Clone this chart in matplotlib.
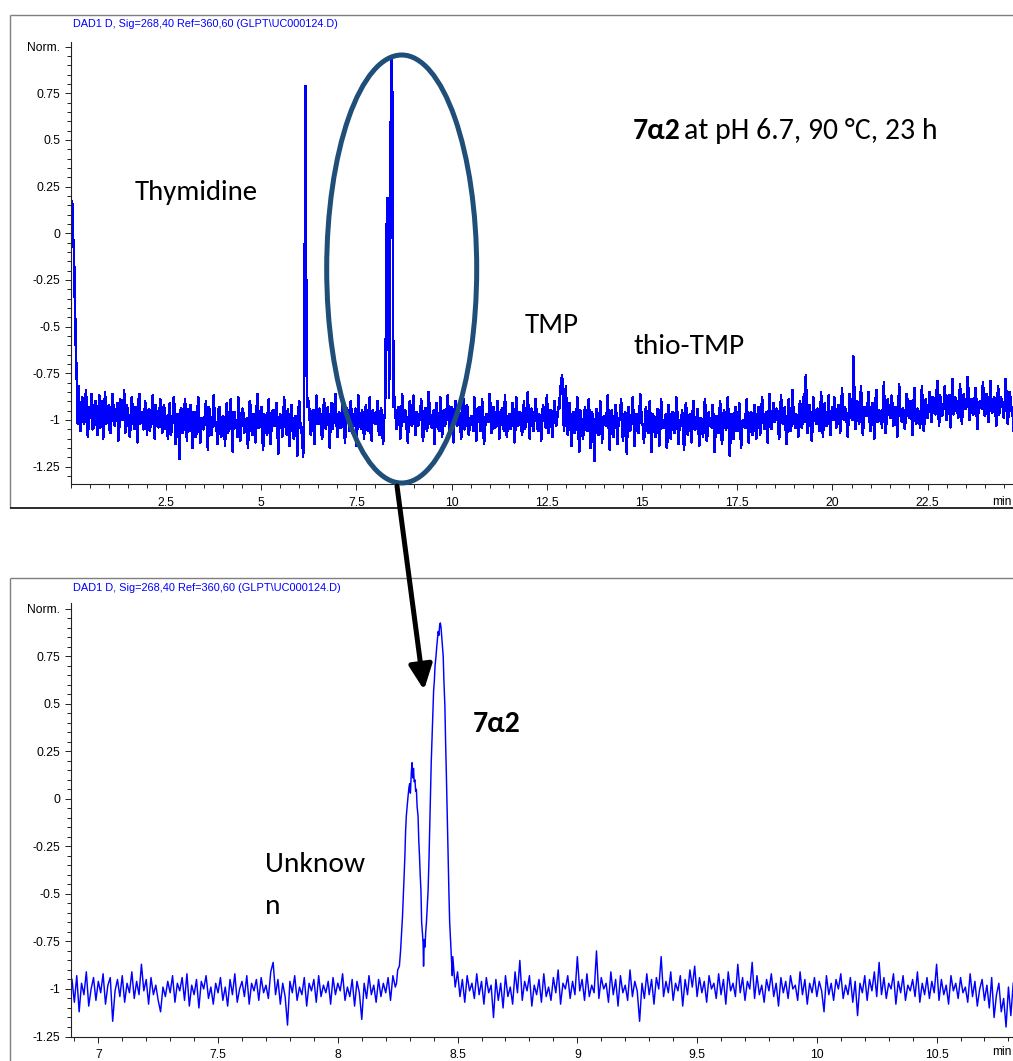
import numpy as np
import matplotlib
matplotlib.use("Agg")
import matplotlib.pyplot as plt
from matplotlib import font_manager as fm
from matplotlib.patches import Ellipse, FancyArrowPatch, ArrowStyle
from matplotlib.lines import Line2D
from matplotlib.ticker import FixedLocator, MultipleLocator

# ------------------------------------------------------------------ data
# top chromatogram (full run, minutes / Norm.)
init_t = [0.0, 0.02, 0.035, 0.05, 0.065, 0.08, 0.10, 0.12, 0.14, 0.16, 0.18]
init_v = [-0.14, 0.05, 0.17, 0.08, -0.05, -0.08, -0.30, -0.50, -0.68, -0.80, -1.02]

# baseline 0.20 - 6.05 min: samples on the 0.05-min grid ...
segA = [-.82, -1.06, -.88, -1.02, -.84, -1.09, -.93, -.86, -1.04, -.90, -1.08, -.87, -.99, -1.10, -.85, -1.01,
        -.92, -1.07, -.86, -1.03, -.95, -1.11, -.89, -1.00, -.84, -1.06, -.97, -1.09, -.88, -1.02, -.93, -1.12,
        -.86, -.99, -1.05, -.90, -1.08, -.94, -1.01, -.87, -1.10, -.96, -1.04, -.89, -1.07, -.92,
        -.98, -1.10, -.91, -1.05, -.88, -1.13, -.97, -1.21, -.94, -1.06, -.89, -1.11, -1.00, -.92, -1.15, -.96,
        -1.07, -.88, -1.12, -.99, -1.04, -.90, -1.16, -.95, -1.08, -.87, -1.03, -1.13, -.93, -1.09, -.98, -1.14,
        -.91, -1.05, -.89, -1.17, -.96, -1.02, -.88, -1.11, -.94, -1.07, -1.00, -1.15, -.90, -1.06, -.97, -1.12,
        -.86, -1.04, -.93, -1.16, -.99, -1.08, -.89, -1.13, -.95, -1.03, -.91, -1.18, -.97, -1.09, -.88, -1.06,
        -.94, -1.14, -.92, -1.10, -.98, -1.19, -.90, -1.07]
# ... and the samples half-way between them (+0.025 min)
segA_mid = [-.97, -.93, -1.00, -.91, -1.03, -.95, -.99, -1.05, -.92, -1.01,
            -.96, -1.04, -.90, -.98, -1.02, -.94, -1.06, -.93, -.97, -1.00,
            -.91, -1.03, -.95, -.99, -1.07, -.92, -.98, -1.01, -.94, -1.05,
            -.97, -.90, -1.02, -.96, -1.04, -.93, -.99, -1.06, -.95, -1.01,
            -.92, -1.03, -.97, -1.00, -.94, -1.05,
            -1.02, -.96, -1.08, -.99, -.93, -1.04, -1.01, -.95, -1.07, -.98,
            -1.03, -.94, -1.06, -1.00, -.97, -1.09, -.95, -1.02, -.99, -1.05,
            -.96, -1.04, -.93, -1.08, -1.00, -.97, -1.03, -.95, -1.06, -.99,
            -1.01, -.94, -1.07, -.98, -1.04, -.96, -1.02, -1.09, -.97, -1.00,
            -.95, -1.05, -.99, -1.03, -.94, -1.08, -1.00, -.96, -1.04, -.98,
            -1.06, -.97, -1.01, -.95, -1.07, -.99, -1.03, -.96, -1.05, -1.00,
            -.98, -1.04, -.96, -1.08, -1.01, -.97, -1.05, -.99, -1.03, -.95,
            -1.02, -1.06]

# thymidine peak
thy_t = [6.10, 6.12, 6.135, 6.15, 6.16, 6.17, 6.185, 6.20, 6.22]
thy_v = [-1.20, -1.02, -0.55, 0.30, 0.79, 0.35, -0.45, -0.85, -0.93]

# baseline 6.25 - 8.20 min
segB = [-.90, -1.08, -.95, -1.13, -.87, -1.02, -.97, -1.10, -.89, -1.05, -.93, -1.15, -.91, -1.00, -.86, -1.09,
        -.96, -1.04, -.88, -1.12, -.94, -1.01, -.90, -1.07, -.98, -1.14, -.87, -1.03, -.95, -1.10, -.92, -1.06,
        -.88, -1.11, -.97, -1.02, -.90, -1.08, -.94, -1.13]
segB_mid = [-1.00, -.96, -1.04, -.98, -1.02, -.94, -1.06, -.99, -1.01, -.95,
            -1.03, -.97, -1.05, -.93, -1.00, -.98, -1.04, -.96, -1.02, -.99,
            -.95, -1.06, -.98, -1.01, -.94, -1.03, -.97, -1.05, -1.00, -.96,
            -1.02, -.98, -1.07, -.95, -1.01, -.99, -1.04, -.96, -1.03, -1.00]

# unknown + 7a2 peak cluster (shared by both panels)
pk_t = [8.245, 8.250, 8.257, 8.262, 8.266, 8.270, 8.273, 8.277, 8.280, 8.283, 8.286, 8.290, 8.293, 8.297,
        8.300, 8.303, 8.307, 8.310, 8.313, 8.316, 8.319, 8.322, 8.325, 8.328, 8.331, 8.335, 8.338, 8.341,
        8.344, 8.347, 8.350, 8.353, 8.356, 8.358, 8.361, 8.364, 8.367, 8.370, 8.374, 8.377, 8.381, 8.384,
        8.387, 8.390, 8.393, 8.396, 8.400, 8.403, 8.406, 8.410, 8.413, 8.416, 8.419, 8.422, 8.425, 8.428,
        8.431, 8.434, 8.437, 8.440, 8.443, 8.447, 8.450, 8.453, 8.457, 8.460, 8.464, 8.467, 8.471, 8.474, 8.478]
pk_v = [-0.97, -0.90, -0.88, -0.80, -0.71, -0.62, -0.53, -0.40, -0.30, -0.17, -0.09, -0.03, 0.01, 0.06,
        0.08, 0.03, 0.14, 0.19, 0.11, 0.16, 0.09, 0.10, 0.04, 0.05, -0.04, -0.09, -0.22, -0.30,
        -0.40, -0.48, -0.65, -0.70, -0.76, -0.88, -0.74, -0.78, -0.70, -0.65, -0.55, -0.48, -0.30, -0.13,
        0.02, 0.19, 0.30, 0.40, 0.57, 0.62, 0.70, 0.75, 0.80, 0.84, 0.88, 0.86, 0.91, 0.925,
        0.90, 0.85, 0.80, 0.75, 0.62, 0.49, 0.30, 0.14, -0.10, -0.30, -0.50, -0.65, -0.76, -0.83, -0.93]

# baseline 8.50 - 24.80 min
segC1 = [-.88, -1.05, -.93, -1.10, -.86, -1.01, -.96, -1.12, -.90, -1.03,
         -.87, -1.08, -.97, -1.00, -.89, -1.11, -.94, -1.06, -.85, -1.02,
         -.98, -1.13, -.91, -1.04, -.88, -1.09, -.95, -1.01, -.87, -1.07,
         -.93, -1.12, -.90, -1.03, -.96, -1.10, -.86, -1.05, -.92, -1.08,
         -.99, -1.02, -.88, -1.11, -.94, -1.06, -.89, -1.13, -.97, -1.00,
         -.86, -1.07, -.93, -1.04, -.90, -1.10, -.95, -1.02, -.87, -1.09,
         -.98, -1.05, -.91, -1.12, -.88, -1.03, -.96, -1.08, -.90, -1.01,
         -.85, -1.10, -.94, -1.06, -.89, -1.04, -.97, -1.11, -.92, -1.02,
         -.87, -1.07, -.95, -1.09, -.90, -1.03, -.93]
segC1_mid = [-.97, -1.01, -.94, -1.04, -.99, -.95, -1.06, -.98, -1.02, -.93,
             -1.00, -.96, -1.03, -.97, -1.05, -.99, -.94, -1.02, -.98, -1.04,
             -.95, -1.01, -.97, -1.06, -.99, -.96, -1.03, -.93, -1.00, -.98,
             -1.05, -.96, -1.02, -.94, -1.01, -.97, -1.04, -.99, -.95, -1.03,
             -.98, -1.06, -.96, -1.00, -.93, -1.02, -.99, -1.05, -.97, -1.01,
             -.95, -1.04, -.98, -1.00, -.96, -1.03, -.94, -1.06, -.99, -1.01,
             -.97, -1.02, -.95, -1.04, -1.00, -.96, -1.03, -.98, -1.05, -.94,
             -1.01, -.97, -1.02, -.99, -.95, -1.06, -.98, -1.00, -.96, -1.04,
             -.99, -.95, -1.03, -.97, -1.01, -.98, -.94]
segC2 = [-.84, -.76, -1.06, -.82]                      # TMP
segC2_mid = [-.80, -.90, -.95, -1.00]
segC3 = [-1.08, -.91, -1.14, -.96, -1.05, -.88, -1.17, -.99, -1.10, -.93,
         -1.06, -.89, -1.15, -.97, -1.22, -.94, -1.08, -.90, -1.12, -.98,
         -1.03, -.87, -1.16, -.95, -1.09, -.92, -1.13, -1.00, -.89, -1.11,
         -.96, -1.18, -.93, -1.05, -.88, -1.14, -.97, -1.07, -.86, -1.02]
segC3_mid = [-1.00, -1.04, -.97, -1.07, -.99, -1.02, -.95, -1.05, -1.01, -.98,
             -1.06, -1.00, -.96, -1.08, -1.03, -.99, -1.05, -.97, -1.02, -1.00,
             -.96, -1.04, -.99, -1.07, -1.01, -.97, -1.03, -.98, -1.05, -.99,
             -1.02, -.96, -1.06, -1.00, -.97, -1.04, -.99, -1.02, -.95, -1.03]
segC4 = [-1.12, -.93, -1.06, -.90, -1.17, -.98, -1.09, -.94, -1.14, -.89,
         -1.04, -.99, -1.15, -.92, -1.10, -.96, -1.07, -.88, -1.13, -1.00,
         -.95, -1.16, -.91, -1.08, -.97, -1.12, -.90, -1.05, -.94, -1.14,
         -.99, -1.09, -.89, -1.11, -.96, -1.03, -.92, -1.17, -.98, -1.07,
         -.90, -1.13, -.95, -1.05, -.88, -1.19, -.97, -1.10, -.93, -1.06,
         -.91, -1.15, -1.00, -1.04, -.89, -1.12, -.96, -1.08, -.92, -1.10]
segC4_mid = [-1.03, -.99, -1.07, -1.01, -.97, -1.05, -1.02, -.98, -1.06, -1.00,
             -1.04, -.97, -1.08, -1.01, -.99, -1.05, -1.02, -.96, -1.06, -1.03,
             -1.00, -1.07, -.98, -1.04, -1.01, -.97, -1.05, -1.02, -.99, -1.08,
             -1.03, -1.00, -.97, -1.06, -1.01, -1.04, -.98, -1.07, -1.02, -.99,
             -1.05, -1.01, -.97, -1.04, -1.00, -1.08, -1.02, -.98, -1.06, -1.03,
             -.99, -1.05, -1.01, -.96, -1.04, -1.00, -1.06, -.98, -1.03, -1.01]
segC5 = [-.93, -1.08, -.88, -1.03, -.96, -1.12, -.86, -1.05, -.91, -1.00,
         -.95, -1.10, -.87, -1.02, -.93, -1.13, -.89, -1.06, -.84, -1.01,
         -.97, -1.09, -.90, -1.04, -.86, -.76, -1.07, -.92, -1.11, -.88,
         -1.00, -.94, -1.06, -.85, -1.09, -.91, -1.03, -.87, -1.08, -.93]
segC5_mid = [-.98, -1.02, -.95, -1.05, -.99, -.96, -1.03, -.97, -1.01, -.94,
             -1.04, -.98, -1.00, -.95, -1.06, -.99, -.97, -1.02, -.96, -1.04,
             -.99, -.94, -1.03, -.97, -1.01, -.95, -1.00, -.98, -1.05, -.96,
             -1.02, -.97, -1.04, -.99, -.95, -1.03, -.98, -1.01, -.96, -1.00]
segC6 = [-.88, -1.04, -.92, -1.07, -.83, -1.00, -.95, -1.09, -.86, -.99,
         -.66, -1.05, -.90, -1.02, -.82, -1.08, -.93, -.98, -.85, -1.06,
         -.91, -1.10, -.84, -1.01, -.96, -1.04, -.80, -1.07, -.89, -.97,
         -.87, -1.03, -.93, -1.09, -.81, -1.00, -.94, -1.05, -.86, -.98,
         -.90, -1.08, -.83, -1.02, -.95, -1.04, -.82, -1.06, -.89, -.99]
segC6_mid = [-.95, -.99, -.92, -1.02, -.96, -.93, -1.01, -.97, -.94, -1.00,
             -.85, -.96, -.99, -.93, -1.03, -.95, -.97, -.91, -1.00, -.94,
             -.98, -.92, -1.01, -.95, -.97, -.93, -1.02, -.96, -.94, -.99,
             -.92, -1.00, -.96, -.98, -.93, -1.01, -.95, -.97, -.91, -.99,
             -.96, -.93, -1.00, -.94, -.98, -.92, -1.01, -.95, -.97, -.93]
segC7 = [-.85, -1.01, -.88, -.97, -.79, -1.03, -.92, -.96, -.82, -1.00,
         -.87, -1.04, -.78, -.95, -.90, -.99, -.81, -1.02, -.86, -.94,
         -.77, -1.00, -.89, -.97, -.83, -1.05, -.91, -.93, -.80, -.98,
         -.86, -1.01, -.79, -.96, -.88, -1.03, -.82, -.94, -.90, -.99,
         -.78, -1.02, -.85, -.95, -1.06, -.84]
segC7_mid = [-.92, -.88, -.96, -.90, -.94, -.87, -.98, -.91, -.93, -.89,
             -.95, -.90, -.97, -.88, -.93, -.91, -.96, -.89, -.94, -.92,
             -.87, -.95, -.91, -.93, -.89, -.97, -.90, -.94, -.88, -.96,
             -.92, -.90, -.95, -.89, -.93, -.91, -.97, -.88, -.94, -.90,
             -.92, -.96, -.89, -.93, -.98, -.95]

# bottom (zoomed) chromatogram baseline, every 0.01 min
fineA = [-.95, -1.07, -.93, -1.12, -.97, -1.03, -.91, -1.09, -1.00, -.94,
         -1.06, -.96, -1.02, -.92, -1.08, -.98, -.94, -1.17, -1.01, -.95,
         -1.04, -.93, -1.07, -.97, -1.02, -.91, -1.05, -.96, -1.03, -.87,
         -1.01, -.95, -1.08, -.94, -1.03, -.98, -1.06, -1.12, -.99, -1.04,
         -.96, -1.02, -.93, -1.07, -.97, -1.01, -.94, -1.06, -.92, -1.09,
         -.98, -1.03, -.95, -1.10, -.96, -1.00, -.93, -1.05, -.99, -1.08,
         -.97, -1.02, -.94, -1.06, -.99, -1.09, -.95, -1.03, -.92, -1.07,
         -1.00, -.96, -1.04, -.93, -1.08, -.97, -1.01, -.95, -1.06, -.94,
         -1.02, -.98, -1.05, -.91, -.86, -1.03, -.95, -1.08, -.97, -1.04,
         -1.19, -.96, -1.02, -.93, -1.06, -.99, -1.03, -.94, -1.09, -.97,
         -1.01, -.95, -1.07, -.93, -1.04, -.98, -1.02, -.96, -1.08, -.94,
         -1.03, -.97, -1.01, -.92, -1.06, -.99, -1.04, -.95, -1.09, -.96,
         -1.02, -1.16, -.97, -1.05, -.93, -1.03, -.98, -1.07, -.95, -1.04,
         -.97, -1.02, -.94, -1.06, -.93, -.99]
fineB = [-.83, -.99, -.91, -1.04, -.95, -1.07, -.93, -1.01, -.97, -1.05,
         -.92, -1.03, -.96, -1.08, -.94, -1.02, -.98, -1.15, -.95, -1.06,
         -.97, -1.10, -.93, -1.04, -.99, -1.08, -.91, -1.02, -.85, -1.06,
         -.96, -1.01, -.93, -1.09, -.98, -1.03, -.95, -1.07, -.92, -1.04,
         -.99, -1.06, -.94, -1.02, -.90, -1.08, -.97, -1.00, -.93, -1.05,
         -.96, -1.03, -.83, -1.01, -.95, -1.06, -.92, -1.04, -.98, -1.02,
         -.80, -1.05, -.94, -1.00, -.97, -1.07, -.91, -1.03, -.95, -1.09,
         -.93, -1.02, -.98, -1.06, -.90, -1.04, -.96, -1.01, -1.17, -.97,
         -1.05, -.92, -1.03, -.95, -1.08, -.94, -1.00, -.83, -1.04, -.96,
         -1.02, -.91, -1.06, -.97, -1.01, -.93, -1.09, -.95, -1.03, -.90,
         -.99, -.88, -1.04, -.94, -1.02, -.96, -1.07, -.93, -1.00, -.97,
         -1.05, -.92, -1.03, -.95, -1.08, -.91, -1.01, -.97, -1.04, -.87,
         -1.02, -.94, -1.06, -.96, -1.00, -.86, -1.05, -.93, -1.03, -.98,
         -1.07, -.95, -1.01, -.92, -1.04, -.97, -1.09, -.94, -1.02, -.96,
         -1.05, -.93, -1.00, -.98, -1.06, -.91, -1.03, -.95, -1.08, -.97,
         -1.02, -.94, -1.04, -.96, -1.01, -1.12, -.93, -1.03, -.97, -1.06,
         -.95, -1.00, -.92, -1.05, -.98, -1.03, -.94, -1.07, -.96, -1.14,
         -.97, -1.02, -.93, -1.06, -.95, -1.01, -.91, -1.04, -.86, -1.03,
         -.94, -1.05, -.97, -1.00, -.92, -1.08, -.96, -1.02, -.93, -1.06,
         -.98, -1.01, -.95, -1.04, -.91, -1.07, -.97, -1.03, -.94, -1.05,
         -.96, -1.02, -.87, -1.06, -.95, -1.03, -.98, -1.08, -.93, -1.01,
         -.97, -1.05, -.94, -1.02, -.99, -1.07, -.92, -1.04, -.96, -1.09,
         -1.00, -.95, -1.06, -.98, -1.10, -.94, -1.15, -1.03, -.97, -1.12,
         -1.05, -1.20, -.99, -1.14, -.97]

top_xticks = [2.5, 5, 7.5, 10, 12.5, 15, 17.5, 20, 22.5]
top_xticklabels = ["2.5", "5", "7.5", "10", "12.5", "15", "17.5", "20", "22.5"]
bot_xticks = [7, 7.5, 8, 8.5, 9, 9.5, 10, 10.5]
bot_xticklabels = ["7", "7.5", "8", "8.5", "9", "9.5", "10", "10.5"]
yticks = [-1.25, -1, -0.75, -0.5, -0.25, 0, 0.25, 0.5, 0.75, 1.0]
yticklabels = ["-1.25", "-1", "-0.75", "-0.5", "-0.25", "0", "0.25", "0.5", "0.75", "Norm."]
signal_title = r"DAD1 D, Sig=268,40 Ref=360,60 (GLPT\UC000124.D)"


# ------------------------------------------------------------------ assemble series
def interleave(t0, grid_vals, mid_vals, step=0.05):
    t = t0 + step * np.arange(len(grid_vals))
    tt = np.column_stack([t, t + step / 2]).ravel()
    vv = np.column_stack([grid_vals, mid_vals]).ravel()
    return tt, vv


segC = segC1 + segC2 + segC3 + segC4 + segC5 + segC6 + segC7
segC_mid = segC1_mid + segC2_mid + segC3_mid + segC4_mid + segC5_mid + segC6_mid + segC7_mid
tA, vA = interleave(0.20, segA, segA_mid)
tB, vB = interleave(6.25, segB, segB_mid)
tC, vC = interleave(8.50, segC, segC_mid)
top_t = np.concatenate([init_t, tA, thy_t, tB, pk_t, tC])
top_v = np.concatenate([init_v, vA, thy_v, vB, pk_v, vC])
bot_t = np.concatenate([6.89 + 0.01 * np.arange(len(fineA)), pk_t,
                        8.48 + 0.01 * np.arange(len(fineB))])
bot_v = np.concatenate([fineA, pk_v, fineB])

# ------------------------------------------------------------------ fonts
names = {f.name for f in fm.fontManager.ttflist}
NARROW = "Liberation Sans Narrow" if "Liberation Sans Narrow" in names else "Liberation Sans"
ANN = next((n for n in ["Carlito", "Lato", "Open Sans", "Noto Sans"] if n in names), "DejaVu Sans")
plt.rcParams["font.family"] = [NARROW, "DejaVu Sans"]
TICK_FS = 9.8 if NARROW == "Liberation Sans Narrow" else 8.7

W, H, DPI = 1013, 1061, 100
fig = plt.figure(figsize=(W / DPI, H / DPI), dpi=DPI)


def axes_px(left, top, right, bottom):
    return fig.add_axes([left / W, 1 - bottom / H, (right - left) / W, (bottom - top) / H])


ax1 = axes_px(70.8, 42, 1013, 484.3)
ax2 = axes_px(71, 603, 1013, 1036.5)

BLUE = "#0000ff"
ax1.plot(top_t, top_v, color=BLUE, lw=1.15, antialiased=False)
ax2.plot(bot_t, bot_v, color=BLUE, lw=1.05)

ax1.set_xlim(0, 24.74)
ax1.set_ylim(-1.345, 1.025)
ax2.set_xlim(6.886, 10.819)
ax2.set_ylim(-1.25, 1.03)

for ax, xt, xl, xminor in [(ax1, top_xticks, top_xticklabels, 0.5),
                           (ax2, bot_xticks, bot_xticklabels, 0.1)]:
    for s in ["top", "right"]:
        ax.spines[s].set_visible(False)
    for s in ["left", "bottom"]:
        ax.spines[s].set_linewidth(0.8)
        ax.spines[s].set_color("#222222")
    ax.xaxis.set_major_locator(FixedLocator(xt))
    ax.set_xticklabels(xl)
    ax.xaxis.set_minor_locator(MultipleLocator(xminor))
    ax.yaxis.set_major_locator(FixedLocator(yticks))
    ax.set_yticklabels(yticklabels)
    ax.yaxis.set_minor_locator(MultipleLocator(0.05))
    ax.tick_params(which="major", direction="out", length=4.6, width=0.7, color="#222222",
                   labelsize=TICK_FS, pad=3)
    ax.tick_params(which="minor", direction="out", length=3.0, width=0.7, color="#222222")
    ax.tick_params(axis="x", pad=4.5)
    ax.set_facecolor("none")


# ------------------------------------------------------------------ frames
def fline(x0, y0, x1, y1, color, lw):
    fig.add_artist(Line2D([x0 / W, x1 / W], [1 - y0 / H, 1 - y1 / H], color=color, lw=lw,
                          transform=fig.transFigure, solid_capstyle="butt"))


fline(10, 15, 1013, 15, "#7f7f7f", 1.0)
fline(10, 15, 10, 508, "#7f7f7f", 1.0)
fline(10, 507.5, 1013, 507.5, "#1a1a1a", 1.3)
fline(10, 578, 1013, 578, "#7f7f7f", 1.0)
fline(10, 578, 10, 1061, "#7f7f7f", 1.0)

# ------------------------------------------------------------------ texts
fig.canvas.draw()
renderer = fig.canvas.get_renderer()


def fit_text(x_px, y_px, s, width_px, va="baseline", **kw):
    t = fig.text(x_px / W, 1 - y_px / H, s, ha="left", va=va, fontsize=20, **kw)
    bb = t.get_window_extent(renderer)
    t.set_fontsize(20 * width_px / bb.width)
    return t


fit_text(73, 24, signal_title, 266, va="center", color=BLUE, family=[NARROW, "DejaVu Sans"])
fit_text(73, 588, signal_title, 268, va="center", color=BLUE, family=[NARROW, "DejaVu Sans"])

fig.text(1012 / W, 1 - 501.5 / H, "min", ha="right", va="center", fontsize=TICK_FS)
fig.text(1012 / W, 1 - 1052 / H, "min", ha="right", va="center", fontsize=TICK_FS)

AF = [ANN, "DejaVu Sans"]
fit_text(135, 200, "Thymidine", 123, family=AF, color="black")
fit_text(525, 333, "TMP", 54, family=AF, color="black")
fit_text(633, 354, "thio-TMP", 111, family=AF, color="black")

reg = fit_text(684, 139, "at pH 6.7, 90 °C, 23 h", 253, family=AF, color="black")
fs_ann = reg.get_fontsize()
fig.text(633 / W, 1 - 139 / H, "7α2", ha="left", va="baseline", fontsize=fs_ann,
         weight="bold", family=AF, color="black")
fig.text(473 / W, 1 - 732 / H, "7α2", ha="left", va="baseline", fontsize=fs_ann,
         weight="bold", family=AF, color="black")
unk = fit_text(265, 872, "Unknow", 100, family=AF, color="black")
fig.text(265 / W, 1 - 914 / H, "n", ha="left", va="baseline", fontsize=unk.get_fontsize(),
         family=AF, color="black")

# ------------------------------------------------------------------ ellipse + arrow
ell = Ellipse((401.7 / W, 1 - 269 / H), 150 / W, 428 / H, transform=fig.transFigure,
              fill=False, edgecolor="#1f4e79", lw=3.6, zorder=10)
fig.add_artist(ell)
arr = FancyArrowPatch((397 / W, 1 - 486 / H), (424 / W, 1 - 690 / H), transform=fig.transFigure,
                      arrowstyle=ArrowStyle("-|>", head_length=15, head_width=7),
                      mutation_scale=1, color="black", lw=3.6, zorder=11,
                      shrinkA=0, shrinkB=0)
fig.add_artist(arr)

fig.savefig("out.png", dpi=DPI)
